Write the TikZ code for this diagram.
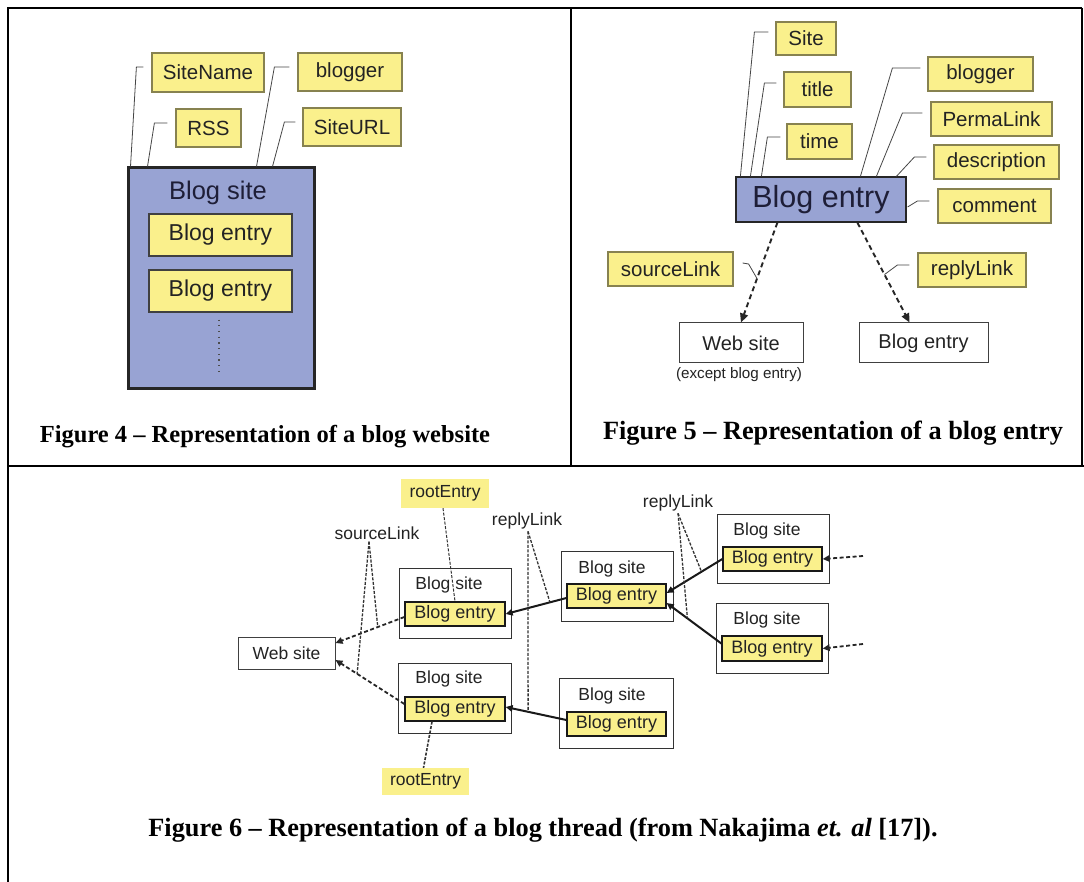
\documentclass[tikz,border=0pt]{standalone}
\usepackage{fontspec}
\setmainfont{Liberation Serif}
\newfontfamily\arialf{Liberation Sans}
\usetikzlibrary{arrows.meta,calc}
\definecolor{ylw}{RGB}{250,240,140}
\definecolor{ylwb}{RGB}{135,130,80}
\definecolor{blu}{RGB}{152,163,211}
\definecolor{navy}{RGB}{30,30,55}
\definecolor{txt}{RGB}{35,35,35}
\definecolor{cline}{RGB}{70,70,70}
\begin{document}
\begin{tikzpicture}[x=1pt,y=-1pt,
  ybox/.style={draw=ylwb, fill=ylw, line width=1.2pt, inner sep=0pt, text=txt, font=\arialf\fontsize{20.5}{22}\selectfont},
  bluebox/.style={draw=black!85, fill=blu, inner sep=0pt},
  wbox/.style={draw=black!75, fill=white, line width=1pt, inner sep=0pt, text=txt, font=\arialf\fontsize{20}{22}\selectfont},
  callout/.style={draw=cline, line width=0.8pt},
  dasharrow/.style={draw=black!85, line width=1.9pt, dash pattern=on 5pt off 3.5pt, -{Triangle[length=9pt,width=8pt]}},
  sitebox/.style={draw=black!80, fill=white, line width=1pt, inner sep=0pt},
  entrybox/.style={draw=black!90, fill=ylw, line width=1.3pt, inner sep=0pt, text=txt, font=\arialf\fontsize{18}{20}\selectfont},
  rootbox/.style={fill=ylw, inner sep=0pt, text=txt, font=\arialf\fontsize{17.5}{19}\selectfont},
  lblsix/.style={inner sep=0pt, text=txt, font=\arialf\fontsize{17.5}{19}\selectfont},
  solidarrow/.style={draw=black!90, line width=2pt, -{Triangle[length=7pt,width=6.5pt]}},
  dashsix/.style={draw=black!85, line width=1.8pt, dash pattern=on 4pt off 2.5pt, -{Triangle[length=7pt,width=6.5pt]}},
  thindash/.style={draw=black!80, line width=1.3pt, dash pattern=on 3pt off 1.5pt},
  captionstyle/.style={inner sep=0pt, font=\bfseries\fontsize{25}{28}\selectfont},
  frameline/.style={line width=2.2pt}
]
\useasboundingbox (0,0) rectangle (1084,882);
\fill[white] (0,0) rectangle (1084,882);

% ---------------- frame ----------------
\draw[frameline] (8,882) -- (8,8) -- (1082,8);
\draw[frameline] (571,8) -- (571,466);
\draw[frameline] (8,466) -- (1084,466);
\draw[line width=1.5pt] (1082,8) -- (1082,466);

% ---------------- Figure 4 ----------------
\node[ybox, minimum width=112, minimum height=39] (sitename) at (208,72.5) {SiteName};
\node[ybox, minimum width=104, minimum height=38] (blogger4) at (350,72) {blogger};
\node[ybox, minimum width=65, minimum height=38] (rss) at (208.5,128) {RSS};
\node[ybox, minimum width=98, minimum height=38] (siteurl) at (352,127) {SiteURL};
\node[bluebox, line width=3pt, minimum width=186, minimum height=220] (bs4) at (221,278) {};
\node[inner sep=0pt, text=navy, font=\arialf\fontsize{25.5}{27}\selectfont] (bs4lbl) at (218,193) {Blog site};
\node[ybox, draw=black!75, minimum width=143, minimum height=42, font=\arialf\fontsize{23}{25}\selectfont] (e41) at (220.5,235) {Blog entry};
\node[ybox, draw=black!75, minimum width=143, minimum height=42, font=\arialf\fontsize{23}{25}\selectfont] (e42) at (220.5,291) {Blog entry};
\coordinate (dotA) at ($(e42.south)+(-1.5,7)$);
\coordinate (dotB) at ($(e42.south)+(-1.5,62)$);
\draw[line width=1.2pt, dash pattern=on 1.2pt off 4.5pt, draw=black!70] (dotA) -- (dotB);

\draw[callout] ($(bs4.north west)+(4,0)$) -- ($(sitename.west)+(-15,-5.5)$) -- ($(sitename.west)+(-8,-5.5)$);
\draw[callout] ($(bs4.north west)+(21,0)$) -- ($(rss.west)+(-21,-5)$) -- ($(rss.west)+(-8,-5)$);
\draw[callout] ($(bs4.north west)+(130,0)$) -- ($(blogger4.west)+(-23,-5)$) -- ($(blogger4.west)+(-8,-5)$);
\draw[callout] ($(bs4.north west)+(146,0)$) -- ($(siteurl.west)+(-18,-5)$) -- ($(siteurl.west)+(-7,-5)$);

\node[captionstyle, font=\bfseries\fontsize{24.5}{28}\selectfont] (cap4) at (265,437) {Figure 4 -- Representation of a blog website};

% ---------------- Figure 5 ----------------
\node[ybox, minimum width=60, minimum height=33] (site5) at (806,38.5) {Site};
\node[ybox, minimum width=67, minimum height=35] (title5) at (817.5,89.5) {title};
\node[ybox, minimum width=65, minimum height=35] (time5) at (819.5,141.5) {time};
\node[ybox, minimum width=105, minimum height=34] (blogger5) at (980.5,74) {blogger};
\node[ybox, minimum width=121, minimum height=34] (perma5) at (991.5,119) {PermaLink};
\node[ybox, minimum width=125, minimum height=34] (desc5) at (996.5,162) {description};
\node[ybox, minimum width=113, minimum height=34] (comm5) at (994.5,206) {comment};
\node[bluebox, line width=1.2pt, minimum width=170, minimum height=45, text=navy, font=\arialf\fontsize{30.5}{32}\selectfont] (be5) at (821,199.5) {Blog entry};
\node[ybox, minimum width=125, minimum height=34] (src5) at (670.5,269) {sourceLink};
\node[ybox, minimum width=108, minimum height=34] (rep5) at (972,270) {replyLink};
\node[wbox, minimum width=124, minimum height=40] (web5) at (741,343) {Web site};
\node[wbox, minimum width=129, minimum height=40] (bet5) at (923.5,343) {Blog entry};
\node[inner sep=0pt, text=txt, font=\arialf\fontsize{15.2}{17}\selectfont] (exc5) at (739,375) {(except blog entry)};

\draw[callout] ($(be5.north west)+(5,0)$) -- ($(site5.west)+(-21,-6.5)$) -- ($(site5.west)+(-7,-6.5)$);
\draw[callout] ($(be5.north west)+(15,0)$) -- ($(title5.west)+(-19,-6.5)$) -- ($(title5.west)+(-7,-6.5)$);
\draw[callout] ($(be5.north west)+(26,0)$) -- ($(time5.west)+(-19,-4.5)$) -- ($(time5.west)+(-6,-4.5)$);
\draw[callout] ($(be5.north west)+(125,0)$) -- ($(blogger5.west)+(-35,-6)$) -- ($(blogger5.west)+(-7,-6)$);
\draw[callout] ($(be5.north west)+(141,0)$) -- ($(perma5.west)+(-28,-6)$) -- ($(perma5.west)+(-8,-6)$);
\draw[callout] ($(be5.north west)+(161,0)$) -- ($(desc5.west)+(-19,-5)$) -- ($(desc5.west)+(-7,-5)$);
\draw[callout] ($(be5.east)+(1,7.5)$) -- ($(comm5.west)+(-20,-5)$) -- ($(comm5.west)+(-8,-5)$);

\coordinate (s5a) at ($(be5.south west)+(42,0)$);
\coordinate (s5b) at ($(bet5.north west)+(51,0)$);
\coordinate (s5c) at ($(be5.south west)+(122,0)$);
\draw[dasharrow] (s5a) -- (web5.north);
\draw[dasharrow] (s5c) -- (s5b);
\draw[callout] ($(src5.east)+(9,-6)$) -- ($(src5.east)+(15,-5)$) -- ($(s5a)!0.56!(web5.north)$);
\draw[callout] ($(rep5.west)+(-8,-5)$) -- ($(rep5.west)+(-20,-5)$) -- ($(s5c)!0.52!(s5b)$);

\node[captionstyle, font=\bfseries\fontsize{26.3}{28}\selectfont] (cap5) at (833,433) {Figure 5 -- Representation of a blog entry};

% ---------------- Figure 6 ----------------
\node[sitebox, minimum width=112, minimum height=70] (bs1) at (455,603) {};
\node[sitebox, minimum width=113, minimum height=70] (bs2) at (454.5,698) {};
\node[sitebox, minimum width=112, minimum height=70] (bs3) at (617,586) {};
\node[sitebox, minimum width=114, minimum height=70] (bs4b) at (616,713) {};
\node[sitebox, minimum width=112, minimum height=69] (bs5) at (773,548.5) {};
\node[sitebox, minimum width=112, minimum height=70] (bs6) at (772,638) {};
\node[lblsix] (l1) at (449,585) {Blog site};
\node[lblsix] (l2) at (449,679) {Blog site};
\node[lblsix] (l3) at (612,569) {Blog site};
\node[lblsix] (l4) at (612,696) {Blog site};
\node[lblsix] (l5) at (767,531) {Blog site};
\node[lblsix] (l6) at (767,620) {Blog site};
\node[entrybox, minimum width=100, minimum height=24] (be1) at (455,614) {Blog entry};
\node[entrybox, minimum width=100, minimum height=24] (be2) at (455,709) {Blog entry};
\node[entrybox, minimum width=99, minimum height=24] (be3) at (616.5,596) {Blog entry};
\node[entrybox, minimum width=99, minimum height=24] (be4) at (616.5,724) {Blog entry};
\node[entrybox, minimum width=99, minimum height=24] (be5t) at (772.5,559) {Blog entry};
\node[entrybox, minimum width=100, minimum height=25] (be6) at (772,648.5) {Blog entry};
\node[wbox, minimum width=97, minimum height=32, font=\arialf\fontsize{17.5}{19}\selectfont] (web6) at (286.5,653) {Web site};
\node[rootbox, minimum width=88, minimum height=29] (rootT) at (445,493.5) {rootEntry};
\node[rootbox, minimum width=87, minimum height=27] (rootB) at (425.5,781.5) {rootEntry};
\node[lblsix] (srcl) at (377,533) {sourceLink};
\node[lblsix] (repl1) at (527,521) {replyLink};
\node[lblsix] (repl2) at (678,503) {replyLink};

\coordinate (in5) at (863,556);
\coordinate (in6) at (863,644);
\draw[dashsix] (in5) -- (be5t.east);
\draw[dashsix] (in6) -- (be6.east);

\coordinate (a1s) at ($(be3.west)+(0,2)$);
\coordinate (a1e) at ($(be1.east)+(0,0)$);
\coordinate (a2s) at ($(be4.west)+(0,-4)$);
\coordinate (a2e) at ($(be2.east)+(0,-2)$);
\coordinate (a3s) at (be5t.west);
\coordinate (a3e) at ($(be3.east)+(0,-3)$);
\coordinate (a4s) at ($(be6.west)+(0,-5)$);
\coordinate (a4e) at ($(be3.east)+(0,7)$);
\draw[solidarrow] (a1s) -- (a1e);
\draw[solidarrow] (a2s) -- (a2e);
\draw[solidarrow] (a3s) -- (a3e);
\draw[solidarrow] (a4s) -- (a4e);

\coordinate (d1s) at ($(be1.west)+(0,3)$);
\coordinate (d1e) at ($(web6.east)+(0,-10)$);
\coordinate (d2s) at ($(be2.west)+(0,-5)$);
\coordinate (d2e) at ($(web6.east)+(0,7)$);
\draw[dashsix] (d1s) -- (d1e);
\draw[dashsix] (d2s) -- (d2e);

\coordinate (srcp) at ($(srcl.south)+(-8,2)$);
\draw[thindash] (srcp) -- ($(d1s)!0.386!(d1e)$);
\draw[thindash] (srcp) -- ($(d2s)!0.686!(d2e)$);
\coordinate (rp1) at ($(repl1.south)+(1,2)$);
\draw[thindash] (rp1) -- ($(a1s)!0.27!(a1e)$);
\draw[thindash] (rp1) -- ($(a2s)!0.63!(a2e)$);
\coordinate (rp2) at ($(repl2.south)+(0,2)$);
\draw[thindash] (rp2) -- ($(a3s)!0.375!(a3e)$);
\draw[thindash] (rp2) -- ($(a4s)!0.62!(a4e)$);
\draw[thindash, line width=1pt] ($(rootT.south)+(-2,0)$) -- (be1.north);
\draw[thindash, line width=1.6pt] ($(be2.south)+(-23,0)$) -- ($(rootB.north)+(-2,0)$);

\node[captionstyle, font=\bfseries\fontsize{26.3}{28}\selectfont] (cap6) at (543,830) {Figure 6 -- Representation of a blog thread (from Nakajima \textit{et. al} [17]).};
\end{tikzpicture}
\end{document}
